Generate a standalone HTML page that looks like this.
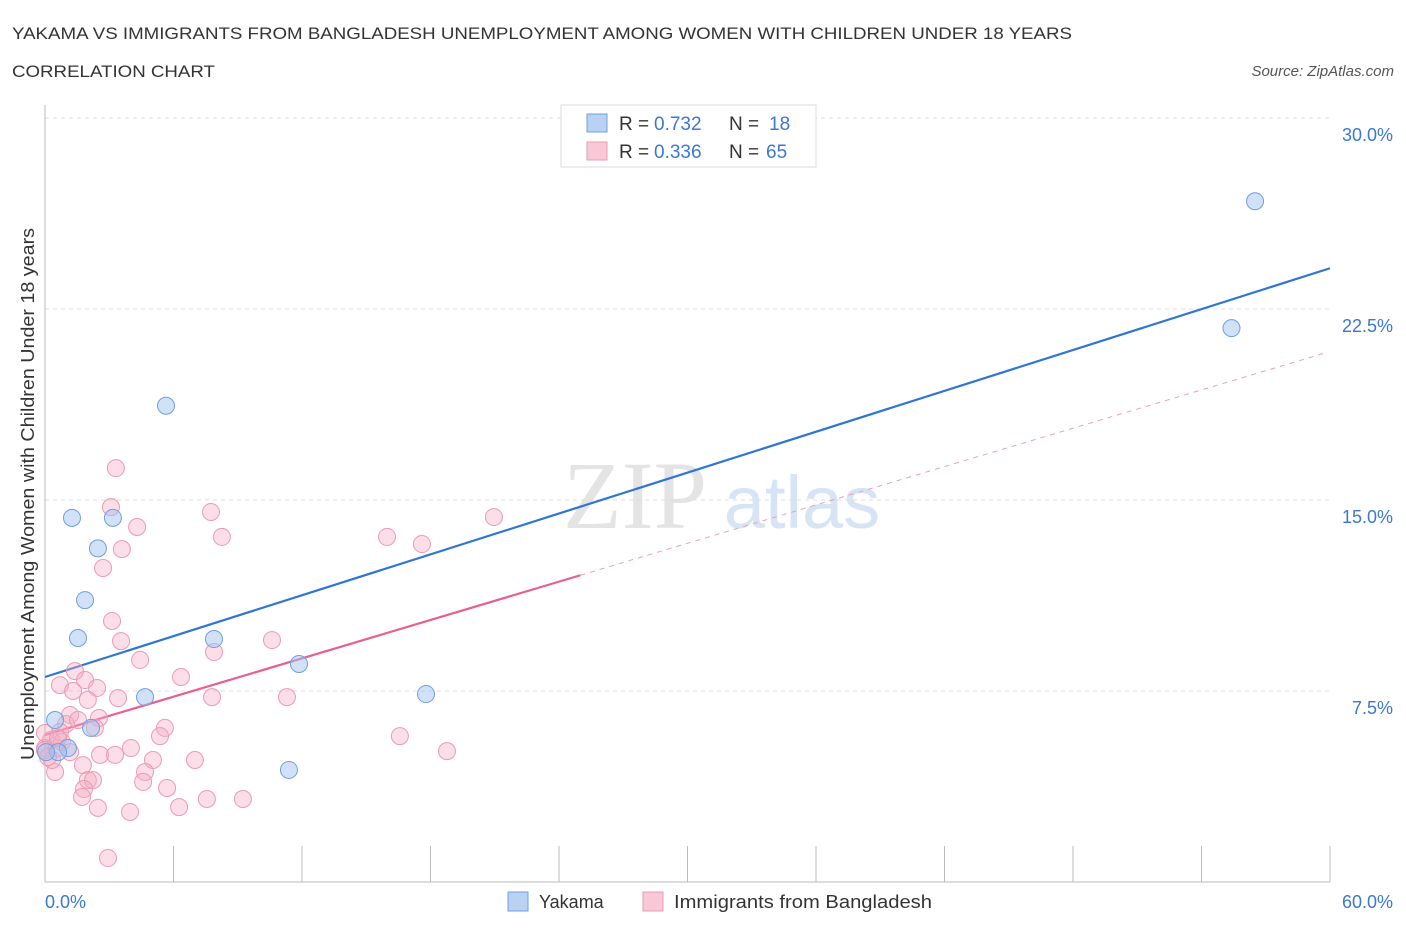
<!DOCTYPE html>
<html><head><meta charset="utf-8"><style>
body{margin:0;background:#fff;font-family:"Liberation Sans",sans-serif}
</style></head><body>
<svg id="c" width="1406" height="930" xmlns="http://www.w3.org/2000/svg" font-family="Liberation Sans, sans-serif">
<text x="12" y="39" font-size="17" fill="#333" textLength="1060" lengthAdjust="spacingAndGlyphs">YAKAMA VS IMMIGRANTS FROM BANGLADESH UNEMPLOYMENT AMONG WOMEN WITH CHILDREN UNDER 18 YEARS</text>
<text x="12" y="77" font-size="17" fill="#333" textLength="203" lengthAdjust="spacingAndGlyphs">CORRELATION CHART</text>
<text x="1394" y="76" font-size="15" fill="#555" font-style="italic" text-anchor="end">Source: ZipAtlas.com</text>
<text x="635" y="528" font-size="96" fill="#e4e4e4" font-family="Liberation Serif, serif" text-anchor="middle">ZIP</text>
<text x="802" y="528" font-size="74" fill="#d6e4f5" text-anchor="middle">atlas</text>
<g id="grid"></g><g id="axes"></g><g id="lines"></g><g id="pts"></g>
<text transform="translate(34,494) rotate(-90)" font-size="18" fill="#333" text-anchor="middle" textLength="532" lengthAdjust="spacingAndGlyphs">Unemployment Among Women with Children Under 18 years</text>
<text x="45" y="908" font-size="18" fill="#3a78d4">0.0%</text>
<text x="1393" y="908" font-size="18" fill="#3a78d4" text-anchor="end">60.0%</text>
<g>
<rect x="561" y="105" width="255" height="62" fill="#fff" stroke="#ddd"/>
<rect x="587" y="114" width="20" height="18" fill="#b9d2f3" stroke="#6f9fe0"/>
<text x="619" y="130" font-size="19" fill="#333">R =</text><text x="654" y="130" font-size="19" fill="#3a78d4">0.732</text>
<text x="729" y="130" font-size="19" fill="#333">N =</text><text x="769" y="130" font-size="19" fill="#3a78d4">18</text>
<rect x="587" y="142" width="20" height="18" fill="#f8c8d7" stroke="#eb9ab5"/>
<text x="619" y="158" font-size="19" fill="#333">R =</text><text x="654" y="158" font-size="19" fill="#3a78d4">0.336</text>
<text x="729" y="158" font-size="19" fill="#333">N =</text><text x="766" y="158" font-size="19" fill="#3a78d4">65</text>
</g>
<g>
<rect x="508" y="892" width="20" height="19" fill="#b9d2f3" stroke="#6f9fe0"/>
<text x="539" y="908" font-size="18" fill="#333">Yakama</text>
<rect x="643" y="892" width="20" height="19" fill="#f8c8d7" stroke="#eb9ab5"/>
<text x="674" y="908" font-size="18" fill="#333" textLength="258" lengthAdjust="spacingAndGlyphs">Immigrants from Bangladesh</text>
</g>
</svg>
<script>
const yTicks=[7.5,15,22.5,30];
const yTickLabels=["7.5%","15.0%","22.5%","30.0%"];
const yakX=[56.5,55.4,5.65,1.26,3.17,2.47,1.87,1.54,7.89,11.86,4.67,17.79,0.47,2.15,11.39,1.07,0.61,0.05];
const yakY=[26.73,21.75,18.7,14.3,14.3,13.1,11.07,9.58,9.54,8.56,7.26,7.38,6.36,6.05,4.4,5.26,5.1,5.1];
const bgdX=[3.31,3.08,7.75,4.3,8.26,3.59,2.71,15.97,17.6,20.96,3.13,3.55,10.6,4.44,1.4,7.89,6.35,0.7,1.87,2.43,1.31,7.8,3.41,11.3,2.0,2.52,1.17,0.98,1.54,5.6,5.37,0.7,2.33,0.28,0.0,4.01,5.04,2.57,3.27,16.57,18.77,7.0,4.67,1.77,2.0,2.24,0.47,1.82,1.73,4.58,5.7,2.47,3.97,6.26,7.56,9.24,2.94,0.33,0.0,0.56,0.79,0.0,1.17,0.14,0.61];
const bgdY=[16.25,14.72,14.53,13.94,13.55,13.07,12.33,13.55,13.27,14.33,10.25,9.46,9.5,8.72,8.28,9.03,8.05,7.73,7.93,7.62,7.5,7.26,7.22,7.26,7.15,6.44,6.56,6.2,6.36,6.05,5.73,5.89,6.05,5.58,5.26,5.26,4.79,4.99,4.99,5.73,5.14,4.79,4.32,4.59,4.0,4.0,4.32,3.65,3.34,3.93,3.69,2.91,2.75,2.94,3.26,3.26,0.94,4.79,5.18,5.26,5.5,5.85,5.1,4.91,5.65];
const yakLine=[8.05,24.1];
const bgdLine=[5.77,0.251];
const NS="http://www.w3.org/2000/svg";
const sx=v=>45+v*1285/60, sy=v=>882-v*764/30;
function mk(t,a,p){const e=document.createElementNS(NS,t);for(const k in a)e.setAttribute(k,a[k]);p.appendChild(e);return e;}
const grid=document.getElementById('grid'),axes=document.getElementById('axes'),lines=document.getElementById('lines'),pts=document.getElementById('pts');
yTicks.forEach((t,i)=>{
 const l=mk('line',{x1:45,x2:1330,y1:sy(t),y2:sy(t),stroke:'#ddd','stroke-dasharray':'4,4'},grid);
 
 
 const tx=mk('text',{x:1393,y:sy(t)+23,'font-size':18,fill:'#3a78d4','text-anchor':'end'},grid);
 tx.textContent=yTickLabels[i];
 
 
});
mk('line',{x1:45,x2:45,y1:105,y2:882,stroke:'#bbb'},axes);
mk('line',{x1:45,x2:1330,y1:882,y2:882,stroke:'#bbb'},axes);
for(let i=1;i<=10;i++){const x=sx(i*6);const t=mk('line',{x1:x,x2:x,y1:846,y2:882,stroke:'#bbb'},axes);
 
 }
const bl=mk('line',{x1:sx(0),y1:sy(yakLine[0]),x2:sx(60),y2:sy(yakLine[1]),stroke:'#2f74d6','stroke-width':2.2},lines);


const pl=mk('line',{x1:sx(0),y1:sy(bgdLine[0]),x2:sx(25),y2:sy(bgdLine[0]+bgdLine[1]*25),stroke:'#e8608d','stroke-width':2.2},lines);


const pd=mk('line',{x1:sx(25),y1:sy(bgdLine[0]+bgdLine[1]*25),x2:sx(59.8),y2:sy(bgdLine[0]+bgdLine[1]*59.8),stroke:'#eba0b8','stroke-width':1,'stroke-dasharray':'5,5'},lines);


bgdX.forEach((x,i)=>{const c=mk('circle',{cx:sx(x),cy:sy(bgdY[i]),r:8.5,fill:'rgba(244,172,195,0.4)',stroke:'#eb9ab5','stroke-width':1},pts);
 
 });
yakX.forEach((x,i)=>{const c=mk('circle',{cx:sx(x),cy:sy(yakY[i]),r:8.5,fill:'rgba(164,196,240,0.5)',stroke:'#6f9fe0','stroke-width':1},pts);
 
 });
</script>
</body></html>
